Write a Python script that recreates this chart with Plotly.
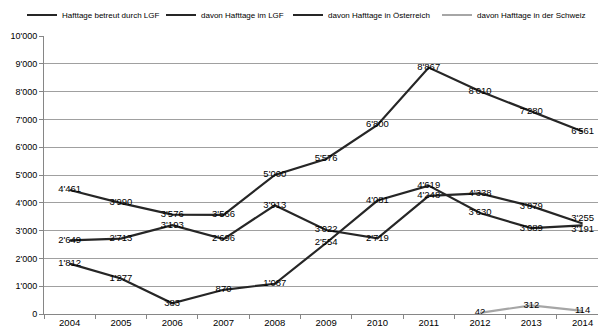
import plotly.graph_objects as go

years = ["2004", "2005", "2006", "2007", "2008", "2009", "2010", "2011", "2012", "2013", "2014"]
total = [4461, 3990, 3576, 3566, 5000, 5576, 6800, 8867, 8010, 7280, 6561]
lgf = [2649, 2713, 3193, 2696, 3913, 3022, 2719, 4248, 4338, 3879, 3255]
oesterreich = [1812, 1277, 383, 870, 1087, 2554, 4081, 4619, 3630, 3089, 3191]
schweiz_years = ["2012", "2013", "2014"]
schweiz = [42, 312, 114]

series_names = ["Hafttage betreut durch LGF", "davon Hafttage im LGF",
                "davon Hafttage in Österreich", "davon Hafttage in der Schweiz"]
ytick_vals = [0, 1000, 2000, 3000, 4000, 5000, 6000, 7000, 8000, 9000, 10000]


def fmt(v):
    return f"{v:,}".replace(",", "'")


FONT = "Liberation Sans, Arial, sans-serif"
FS = 9
LFS = 8
DARK = "#262626"
LIGHT = "#a6a6a6"
W, H = 598, 329

fig = go.Figure()


def add(xs, ys, name, color, legend, positions=None):
    fig.add_trace(go.Scatter(
        x=xs, y=ys, name=name, mode="lines+text", legend=legend,
        line=dict(color=color, width=2.2),
        text=[fmt(v) for v in ys],
        textposition=positions if positions else "middle center",
        textfont=dict(family=FONT, size=FS + 0.5, color="#000000"),
        cliponaxis=False,
    ))


add(years, total, series_names[0], DARK, "legend")
pos_lgf = ["middle center"] * len(years)
pos_lgf[-1] = "top center"
add(years, lgf, series_names[1], DARK, "legend2", pos_lgf)
pos_oe = ["middle center"] * len(years)
pos_oe[-1] = "bottom center"
add(years, oesterreich, series_names[2], DARK, "legend3", pos_oe)
add(schweiz_years, schweiz, series_names[3], LIGHT, "legend4")

leg_x = [22, 161, 288, 437]


def leg(px):
    return dict(orientation="h", x=px / W, xref="container", xanchor="left",
                y=1 - 15 / H, yref="container", yanchor="middle",
                font=dict(family=FONT, size=LFS), bgcolor="rgba(0,0,0,0)",
                borderwidth=0)


fig.update_layout(
    width=W, height=H,
    margin=dict(l=44, r=0, t=36, b=15, autoexpand=False),
    paper_bgcolor="white", plot_bgcolor="white",
    font=dict(family=FONT, size=FS, color="#000000"),
    showlegend=True,
    legend=leg(leg_x[0]), legend2=leg(leg_x[1]),
    legend3=leg(leg_x[2]), legend4=leg(leg_x[3]),
    xaxis=dict(type="category", categoryorder="array", categoryarray=years,
               range=[-0.5, 10.3], showgrid=False, showline=True,
               linecolor="#868686", linewidth=1, ticks="outside", ticklen=4,
               tickcolor="#868686", tickson="boundaries",
               tickfont=dict(family=FONT, size=FS + 0.5), zeroline=False),
    yaxis=dict(range=[0, 10000], tickvals=ytick_vals,
               ticktext=[fmt(v) for v in ytick_vals],
               showgrid=True, gridcolor="#a0a0a0", gridwidth=1,
               showline=True, linecolor="#868686", linewidth=1,
               ticks="outside", ticklen=4, tickcolor="#868686",
               tickfont=dict(family=FONT, size=FS), zeroline=False),
)

fig.write_html("out.html")
